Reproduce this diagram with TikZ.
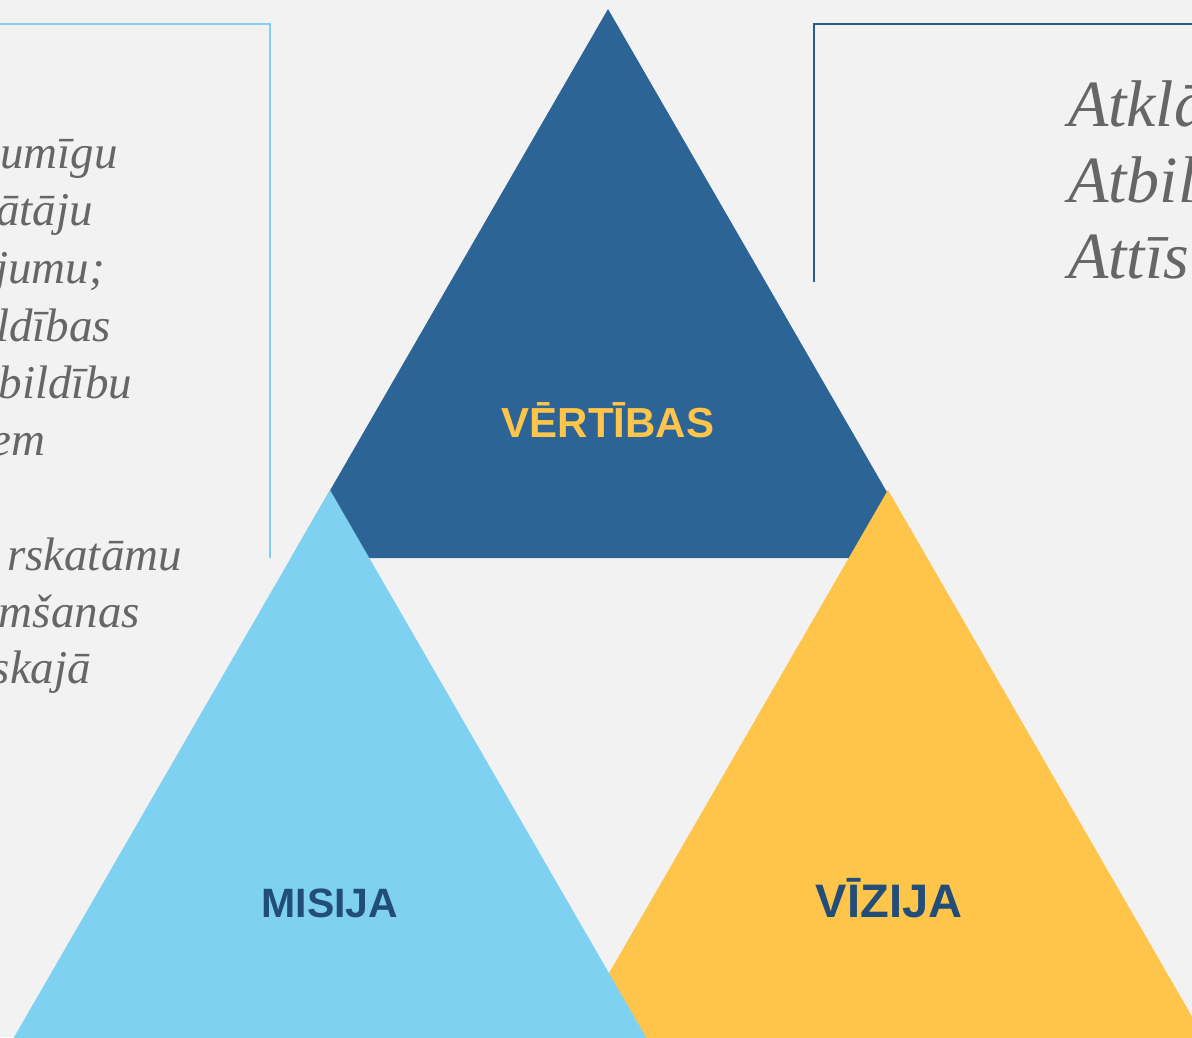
\documentclass[tikz,border=0pt]{standalone}
\usepackage{fontspec}
\setmainfont{Liberation Serif}
\newfontfamily\labelfont{Liberation Sans}[BoldFont={Liberation Sans Bold}]
\newfontfamily\itserif{Liberation Serif Italic}
\definecolor{bgc}{HTML}{F2F2F2}
\definecolor{dblue}{HTML}{2C6496}
\definecolor{lblue}{HTML}{7FD1F1}
\definecolor{gold}{HTML}{FFC44A}
\definecolor{navy}{HTML}{214D78}
\definecolor{txtgray}{HTML}{666666}
\definecolor{lineblue}{HTML}{2A5A88}
\tikzset{
  lefttxt/.style={anchor=base east,inner sep=0pt,outer sep=0pt,text=txtgray,font=\itserif\fontsize{47}{56}\selectfont},
  righttxt/.style={anchor=base west,inner sep=0pt,outer sep=0pt,text=txtgray,font=\itserif\fontsize{66}{76}\selectfont},
  lbl/.style={anchor=base,inner sep=0pt,outer sep=0pt},
}
\begin{document}
\begin{tikzpicture}[x=1pt,y=-1pt]
\useasboundingbox (0,0) rectangle (1192,1037);
\fill[bgc] (0,0) rectangle (1192,1037);
\clip (0,0) rectangle (1192,1037);
% frames
\draw[lblue,line width=2pt] (0,24) -- (270,24) -- (270,558);
\draw[lineblue,line width=2pt] (1192,24) -- (814,24) -- (814,282);
% left text fragments
\node[lefttxt] (l1) at (118,168) {umīgu};
\node[lefttxt] (l2) at (93,225) {ātāju};
\node[lefttxt] (l3) at (105,283) {jumu;};
\node[lefttxt] (l4) at (111,341) {ldības};
\node[lefttxt] (l5) at (132,398) {bildību};
\node[lefttxt] (l6) at (45,455) {em};
\node[lefttxt] (l7) at (182,570) {rskatāmu};
\node[lefttxt] (l8) at (140,627) {mšanas};
\node[lefttxt] (l9) at (91,683) {skajā};
% right text fragments
\node[righttxt] (r1) at (1068,126) {Atklā};
\node[righttxt] (r2) at (1068,202) {Atbil};
\node[righttxt] (r3) at (1068,278) {Attīs};
% triangles
\fill[dblue] (608,9) -- (925,558) -- (291,558) -- cycle;
\fill[gold] (888,490) -- (1205,1039) -- (571,1039) -- cycle;
\fill[lblue] (330,490) -- (647,1039) -- (13,1039) -- cycle;
% labels
\node[lbl,text=gold,font=\labelfont\bfseries\fontsize{42}{50}\selectfont] (vert) at (608,437) {VĒRTĪBAS};
\node[lbl,text=navy,font=\labelfont\bfseries\fontsize{41}{49}\selectfont] (mis) at (330,917) {MISIJA};
\node[lbl,text=navy,font=\labelfont\bfseries\fontsize{47}{56}\selectfont] (viz) at (889,917) {VĪZIJA};
\end{tikzpicture}
\end{document}
